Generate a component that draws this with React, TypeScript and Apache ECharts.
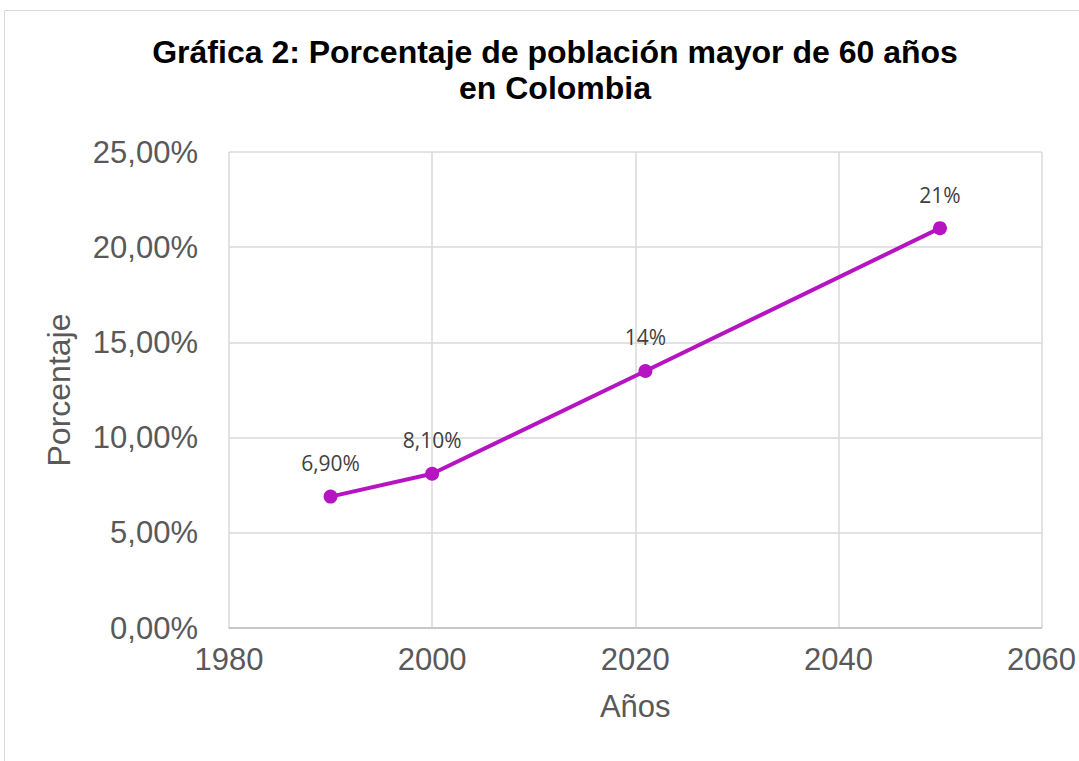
import React, { useEffect, useRef } from "react";
import * as echarts from "echarts";

const years = [1990, 2000, 2021, 2050];
const values = [6.9, 8.1, 13.5, 21];
const pointLabels = ["6,90%", "8,10%", "14%", "21%"];
const titleText = "Gráfica 2: Porcentaje de población mayor de 60 años\nen Colombia";

export default function App() {
  const ref = useRef<HTMLDivElement>(null);
  useEffect(() => {
    if (!ref.current) return;
    const chart = echarts.init(ref.current, null, { renderer: "svg" });
    const axisFont = "'Liberation Sans', Arial, sans-serif";
    chart.setOption({
      animation: false,
      backgroundColor: "#ffffff",
      title: {
        text: titleText,
        left: 550,
        top: 29,
        textAlign: "center",
        textStyle: {
          fontFamily: axisFont,
          fontWeight: "bold",
          fontSize: 32,
          lineHeight: 36,
          color: "#000000",
        },
      },
      graphic: [
        {
          type: "rect",
          shape: { x: 4.5, y: 10.5, width: 1200, height: 900 },
          style: { fill: "none", stroke: "#d9d9d9", lineWidth: 1 },
          silent: true,
        },
      ],
      grid: { left: 229, right: 37, top: 152, bottom: 133 },
      xAxis: {
        type: "value",
        min: 1980,
        max: 2060,
        interval: 20,
        name: "Años",
        nameLocation: "middle",
        nameGap: 63,
        nameTextStyle: { fontFamily: axisFont, fontSize: 31, color: "#595959" },
        axisLine: { show: true, lineStyle: { color: "#bfbfbf", width: 1.5 } },
        axisTick: { show: false },
        axisLabel: {
          margin: 16,
          fontFamily: axisFont,
          fontSize: 31,
          color: "#595959",
          formatter: (v: number) => String(v),
        },
        splitLine: { show: true, lineStyle: { color: "#d9d9d9", width: 1.5 } },
      },
      yAxis: {
        type: "value",
        min: 0,
        max: 25,
        interval: 5,
        name: "Porcentaje",
        nameLocation: "middle",
        nameGap: 154,
        nameRotate: 90,
        nameTextStyle: { fontFamily: axisFont, fontSize: 32, color: "#595959" },
        axisLine: { show: false },
        axisTick: { show: false },
        axisLabel: {
          margin: 31,
          fontFamily: axisFont,
          fontSize: 31,
          color: "#595959",
          formatter: (v: number) => v.toFixed(2).replace(".", ",") + "%",
        },
        splitLine: { show: true, lineStyle: { color: "#d9d9d9", width: 1.5 } },
      },
      series: [
        {
          type: "line",
          data: years.map((y, i) => [y, values[i]]),
          symbol: "circle",
          symbolSize: 14,
          lineStyle: { color: "#b614c2", width: 4 },
          itemStyle: { color: "#b614c2" },
          label: {
            show: true,
            position: "top",
            distance: 16,
            fontFamily: "'Open Sans', 'Noto Sans', sans-serif",
            fontSize: 21,
            color: "#404040",
            formatter: (p: any) => pointLabels[p.dataIndex],
          },
        },
      ],
    });
    return () => chart.dispose();
  }, []);
  return (
    <div
      ref={ref}
      style={{ position: "fixed", left: 0, top: 0, width: 1079, height: 761 }}
    />
  );
}
